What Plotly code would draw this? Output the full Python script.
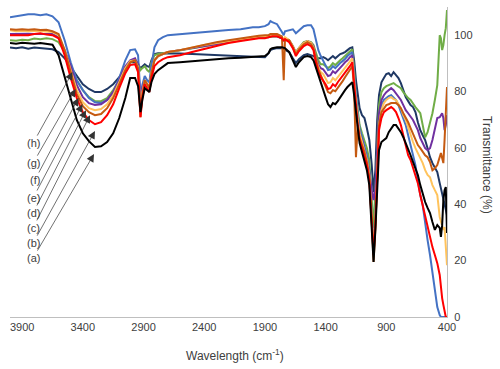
import plotly.graph_objects as go

# Wavenumber grid (cm-1)
wavenumber = [
    4000, 3950, 3900, 3850, 3800, 3750, 3700, 3650,
    3600, 3550, 3500, 3450, 3400, 3350, 3300, 3250, 3200, 3150, 3100, 3050, 3010,
    2970, 2945, 2925, 2910, 2890, 2870, 2852, 2835, 2810, 2780, 2740, 2700,
    2600, 2500, 2400, 2300, 2200, 2100, 2000, 1950,
    1900, 1870, 1855, 1840, 1800, 1760, 1745, 1735, 1700, 1670, 1645, 1620, 1580, 1550, 1520, 1500, 1480, 1460,
    1440, 1420, 1400, 1380, 1360, 1340, 1320, 1300, 1280, 1260, 1240, 1220, 1200, 1180, 1165,
    1150, 1135, 1120, 1100, 1080, 1060, 1040, 1020, 1005, 990, 975, 960, 940, 920, 900, 880, 860, 840, 820, 800,
    780, 760, 740, 720, 700, 680, 660, 640, 620, 600, 580, 560, 540, 520, 500, 480, 460, 450, 440, 430, 420, 410, 400,
]

series_h = [  # navy
    95.6, 95.4, 95.7, 95.2, 95.6, 95.4, 95.2, 95.0,
    94.0, 91.8, 88.7, 85.5, 82.6, 80.9, 79.8, 79.8, 80.9, 82.6, 85.1, 88.3, 90.4,
    90.4, 89.7, 88.3, 89.0, 89.7, 89.0, 88.7, 91.1, 93.3, 93.6, 93.6, 93.6,
    93.5, 93.3, 93.1, 92.9, 92.7, 92.6, 92.4, 92.2,
    92.2, 93.6, 94.7, 95.0, 95.4, 95.4, 95.0, 95.0, 94.0, 91.8, 90.1, 91.5, 92.9, 93.3, 92.9, 92.6, 91.8, 91.8,
    91.8, 92.2, 91.8, 91.1, 91.8, 92.6, 91.8, 92.6, 93.3, 93.6, 94.0, 94.7, 95.4, 95.7, 91.1,
    84.0, 79.4, 74.1, 71.6, 70.6, 67.0, 62.8, 53.9, 44.3, 52.1, 69.9, 78.7, 83.3, 84.8, 86.2, 86.5, 85.5, 86.9, 85.8, 84.8,
    83.0, 80.5, 78.0, 76.6, 75.2, 74.5, 72.7, 69.1, 66.3, 64.5, 62.8, 59.9, 56.7, 54.6, 53.2, 51.4, 47.5, 45.7, 43.3, 41.5, 39.7, 37.9, 36.2,
]

series_g = [  # green
    98.2, 98.0, 98.4, 98.2, 98.8, 98.6, 98.9, 98.6,
    97.5, 94.0, 89.4, 84.0, 80.5, 78.0, 76.6, 76.6, 77.7, 80.5, 84.0, 88.3, 90.4,
    91.1, 90.1, 87.6, 88.3, 89.0, 87.6, 86.9, 90.4, 92.9, 93.3, 93.6, 94.0,
    94.7, 95.4, 96.1, 96.8, 97.5, 98.2, 98.9, 99.1,
    99.3, 99.3, 99.6, 99.6, 99.6, 98.9, 98.6, 98.9, 98.2, 96.1, 94.0, 95.4, 97.5, 97.9, 97.5, 96.5, 93.3, 91.1,
    89.7, 89.7, 89.0, 88.3, 89.0, 90.1, 89.4, 90.4, 91.1, 91.8, 92.6, 93.6, 94.3, 95.0, 87.6,
    77.7, 73.4, 68.1, 65.2, 62.8, 59.9, 55.7, 43.3, 31.6, 45.0, 62.8, 75.2, 79.8, 81.2, 81.9, 82.3, 82.6, 83.0, 82.3, 81.6,
    81.2, 79.8, 78.7, 77.7, 77.0, 75.5, 74.5, 73.4, 72.3, 68.1, 63.8, 65.6, 69.1, 72.3, 77.0, 82.3, 100.0, 98.9, 94.7, 96.5, 100.0, 102.5, 108.9,
]

series_f = [  # light blue
    106.4, 106.7, 107.1, 107.4, 107.4, 107.1, 107.4, 106.7,
    104.6, 98.2, 90.4, 84.0, 80.5, 77.7, 76.2, 75.9, 77.0, 79.8, 84.8, 91.1, 94.7,
    95.0, 92.9, 78.7, 82.3, 85.5, 84.0, 83.3, 89.4, 95.7, 98.2, 99.3, 100.0,
    100.4, 100.7, 101.1, 101.4, 101.8, 102.1, 102.8, 102.8,
    103.2, 103.9, 105.0, 104.6, 103.9, 101.1, 100.0, 101.4, 101.8, 102.1, 100.7, 101.8, 103.2, 103.5, 103.5, 102.1, 98.2, 94.7,
    92.6, 91.1, 89.4, 87.6, 87.9, 89.0, 88.3, 89.4, 90.1, 90.8, 91.5, 92.6, 93.3, 94.0, 85.8,
    77.0, 71.6, 67.0, 63.5, 61.0, 57.4, 52.1, 36.2, 23.8, 36.2, 55.7, 69.9, 75.2, 77.0, 77.7, 78.4, 78.7, 77.7, 77.0, 75.2,
    72.7, 70.6, 68.1, 64.5, 61.0, 57.4, 53.9, 48.6, 43.3, 39.7, 32.6, 27.3, 22.0, 15.6, 9.6, 3.5, 0.7, 0, 0, 0, 0, 0, 0,
]

series_e = [  # purple
    100.4, 100.5, 100.4, 100.5, 100.4, 100.4, 100.5, 100.4,
    99.3, 94.7, 89.0, 82.3, 78.0, 75.9, 75.2, 75.5, 77.0, 79.8, 84.0, 89.0, 91.1,
    91.8, 89.4, 77.0, 81.2, 84.0, 82.6, 81.6, 86.9, 91.1, 92.6, 93.3, 94.0,
    94.7, 95.4, 96.1, 96.8, 97.5, 98.2, 98.9, 99.3,
    99.3, 99.3, 99.6, 99.6, 99.6, 98.9, 98.2, 98.9, 98.2, 96.1, 93.6, 95.4, 97.2, 97.9, 97.2, 96.1, 92.2, 89.7,
    88.3, 87.9, 86.9, 85.5, 85.8, 87.2, 86.5, 87.6, 88.7, 89.4, 90.4, 91.1, 92.2, 92.9, 84.0,
    73.4, 69.9, 65.2, 62.8, 59.2, 55.7, 51.4, 45.0, 41.5, 45.7, 59.2, 72.3, 77.0, 78.7, 79.8, 80.5, 81.2, 80.5, 79.4, 78.0,
    77.0, 75.2, 73.4, 72.3, 71.3, 69.9, 68.1, 66.3, 63.5, 61.7, 59.9, 59.2, 59.9, 62.8, 66.3, 70.6, 70.9, 71.6, 72.3, 70.6, 66.3, 68.1, 71.6,
]

series_d = [  # light orange
    101.8, 101.4, 101.6, 101.4, 101.6, 101.4, 101.4, 101.1,
    100.0, 94.7, 87.6, 80.5, 76.2, 74.1, 73.4, 73.8, 75.5, 78.7, 83.3, 88.3, 90.8,
    91.1, 88.7, 72.7, 79.8, 84.0, 82.6, 81.2, 86.9, 91.1, 92.6, 93.3, 94.0,
    94.7, 95.7, 96.5, 97.2, 97.9, 98.6, 99.3, 99.5,
    99.6, 99.6, 100.0, 100.0, 100.0, 99.3, 98.6, 99.3, 98.2, 96.1, 93.6, 95.4, 97.2, 97.9, 97.2, 95.7, 91.5, 88.7,
    86.9, 86.2, 84.8, 83.0, 83.3, 84.8, 84.0, 85.1, 86.5, 87.6, 88.7, 89.7, 90.8, 91.8, 84.0,
    75.2, 69.9, 65.2, 62.1, 59.2, 55.7, 50.4, 36.2, 23.0, 34.4, 53.9, 68.1, 73.4, 75.9, 77.0, 77.7, 78.0, 77.3, 77.0, 75.5,
    74.1, 71.6, 69.9, 67.4, 64.5, 62.1, 59.9, 58.2, 56.7, 54.6, 52.1, 50.4, 49.6, 46.8, 45.0, 43.3, 35.5, 33.7, 32.6, 30.9, 31.9, 23.8, 18.4,
]

series_c = [  # brown
    102.1, 101.9, 102.1, 101.9, 102.1, 101.8, 101.9, 101.4,
    100.4, 94.7, 86.9, 79.1, 74.8, 72.7, 71.6, 72.0, 74.1, 77.7, 82.6, 87.6, 90.4,
    91.1, 88.3, 70.9, 78.7, 84.0, 82.6, 81.2, 86.5, 91.1, 92.6, 93.3, 94.0,
    94.7, 95.7, 96.5, 97.5, 98.2, 98.9, 99.6, 99.8,
    100.0, 100.0, 100.4, 100.4, 100.4, 99.6, 84.0, 98.2, 98.2, 95.7, 93.3, 95.0, 96.8, 97.5, 96.8, 95.4, 91.1, 87.9,
    85.8, 84.0, 81.9, 79.8, 79.4, 80.5, 80.1, 81.2, 82.3, 83.7, 85.1, 86.5, 87.6, 89.0, 80.5,
    56.7, 68.1, 63.5, 61.0, 58.5, 55.0, 49.3, 35.1, 19.5, 31.6, 52.1, 68.1, 72.7, 74.1, 75.2, 75.5, 75.9, 75.9, 75.9, 75.2,
    74.1, 72.3, 70.9, 69.1, 67.0, 65.2, 62.8, 61.0, 59.9, 58.5, 57.4, 56.7, 55.0, 52.1, 52.8, 53.9, 57.4, 58.2, 56.4, 54.6, 62.8, 71.6, 81.6,
]

series_b = [  # red
    100.0, 100.0, 100.2, 100.0, 100.4, 100.7, 100.2, 100.0,
    98.9, 92.9, 84.8, 77.7, 72.7, 69.9, 68.4, 69.1, 71.6, 75.5, 81.2, 86.5, 89.4,
    89.7, 86.9, 70.9, 77.7, 82.6, 81.2, 79.8, 84.8, 89.0, 90.4, 91.5, 92.2,
    92.9, 94.0, 95.0, 96.1, 97.2, 97.9, 98.6, 98.9,
    98.9, 99.3, 99.6, 99.6, 99.6, 98.9, 98.2, 98.6, 97.5, 95.4, 92.6, 94.3, 96.1, 96.8, 96.1, 94.7, 90.1, 86.9,
    85.1, 84.0, 82.6, 80.9, 81.2, 82.6, 81.9, 83.3, 84.4, 85.5, 86.9, 87.9, 89.0, 90.4, 82.3,
    74.1, 68.1, 62.8, 59.9, 57.4, 53.9, 48.6, 34.4, 22.0, 32.6, 52.1, 66.3, 70.6, 72.7, 73.4, 74.1, 74.5, 73.8, 72.7, 70.6,
    68.1, 64.5, 61.0, 57.4, 55.7, 52.8, 50.4, 47.5, 43.3, 39.7, 35.1, 31.6, 28.0, 24.8, 22.0, 19.1, 14.9, 9.6, 6.7, 4.3, 1.4, 0, 0,
]

series_a = [  # black
    97.2, 97.0, 97.3, 97.2, 97.0, 97.2, 96.8, 96.6,
    92.9, 85.1, 77.0, 69.9, 65.2, 62.4, 60.3, 60.6, 62.1, 65.2, 70.6, 77.7, 84.8,
    84.8, 81.9, 72.7, 77.0, 81.2, 80.5, 79.8, 83.3, 86.2, 87.6, 89.0, 90.1,
    90.4, 90.8, 91.1, 91.5, 91.8, 92.0, 92.4, 92.6,
    92.6, 93.6, 95.0, 95.4, 95.7, 95.7, 95.4, 95.4, 94.0, 91.1, 88.7, 90.4, 92.2, 92.6, 92.2, 91.1, 88.3, 85.5,
    83.3, 80.5, 78.0, 75.5, 74.5, 75.9, 75.5, 76.6, 78.0, 79.1, 80.5, 81.6, 82.6, 83.3, 78.7,
    71.6, 67.0, 61.7, 58.5, 55.7, 52.1, 46.8, 32.6, 19.5, 30.9, 48.6, 59.2, 62.1, 62.8, 63.5, 65.6, 67.0, 68.1, 68.1, 67.0,
    65.6, 63.8, 61.7, 59.9, 57.4, 55.0, 52.8, 50.4, 46.8, 43.3, 40.8, 38.7, 36.9, 33.7, 30.9, 32.6, 31.6, 28.4, 32.6, 41.5, 45.0, 46.1, 29.8,
]

labels = ["(h)", "(g)", "(f)", "(e)", "(d)", "(c)", "(b)", "(a)"]
values = [series_h, series_g, series_f, series_e, series_d, series_c, series_b, series_a]
colors = ["#1F3864", "#70AD47", "#4472C4", "#7030A0", "#FFC35C", "#C55A11", "#FF0000", "#000000"]

x_ticks = [3900, 3400, 2900, 2400, 1900, 1400, 900, 400]
y_ticks = [0, 20, 40, 60, 80, 100]

# arrow heads (wavenumber, %T) and label positions
arrow_heads = [(3485, 86.9), (3460, 80.9), (3436, 77.7), (3403, 75.5),
               (3374, 73.4), (3341, 71.6), (3300, 66.0), (3308, 57.8)]
label_pos = [(3810, 61.7), (3810, 54.6), (3795, 48.6), (3810, 42.2),
             (3810, 36.9), (3810, 31.6), (3810, 26.2), (3810, 20.9)]

fig = go.Figure()
for name, vals, col in zip(labels, values, colors):
    fig.add_trace(go.Scatter(x=wavenumber, y=vals, mode="lines", name=name,
                             line=dict(color=col, width=2), showlegend=False,
                             hoverinfo="skip"))

font_family = "Liberation Sans Narrow, Arial Narrow, Liberation Sans, Arial, sans-serif"
txt_color = "#404040"

annotations = []
for name, (hx, hy), (lx, ly) in zip(labels, arrow_heads, label_pos):
    annotations.append(dict(
        x=hx, y=hy, xref="x", yref="y", ax=lx, ay=ly, axref="x", ayref="y",
        text=name, showarrow=True, arrowhead=2, arrowsize=2.2, arrowwidth=0.7,
        arrowcolor="#333333", font=dict(size=11, color=txt_color, family=font_family),
    ))
# y-axis title (reads top to bottom, right side)
annotations.append(dict(
    x=1.0915, y=0.49, xref="paper", yref="paper", text="Transmittance (%)",
    textangle=90, showarrow=False, xanchor="center", yanchor="middle",
    font=dict(size=12, color=txt_color, family=font_family),
))
# x-axis title
annotations.append(dict(
    x=0.514, y=-0.123, xref="paper", yref="paper", text="Wavelength (cm<sup>-1</sup>)",
    showarrow=False, xanchor="center", yanchor="middle",
    font=dict(size=12, color=txt_color, family=font_family),
))

fig.update_layout(
    width=500, height=369,
    margin=dict(l=10, r=53, t=7, b=52, autoexpand=False),
    paper_bgcolor="white", plot_bgcolor="white",
    annotations=annotations,
    xaxis=dict(range=[4000, 400], tickvals=x_ticks, ticktext=[str(v) for v in x_ticks],
               showgrid=False, zeroline=False, showline=True, linecolor="#BFBFBF", linewidth=1,
               ticks="", automargin=False,
               tickfont=dict(size=11, color=txt_color, family=font_family)),
    yaxis=dict(range=[0, 110], tickvals=y_ticks, side="right",
               showgrid=False, zeroline=False, showline=True, linecolor="#BFBFBF", linewidth=1,
               ticks="", automargin=False, ticklabelstandoff=4,
               tickfont=dict(size=11, color=txt_color, family=font_family)),
)

fig.write_html("out.html", config={"displayModeBar": False},
               post_script="document.body.style.margin='0';document.body.style.padding='0';")
